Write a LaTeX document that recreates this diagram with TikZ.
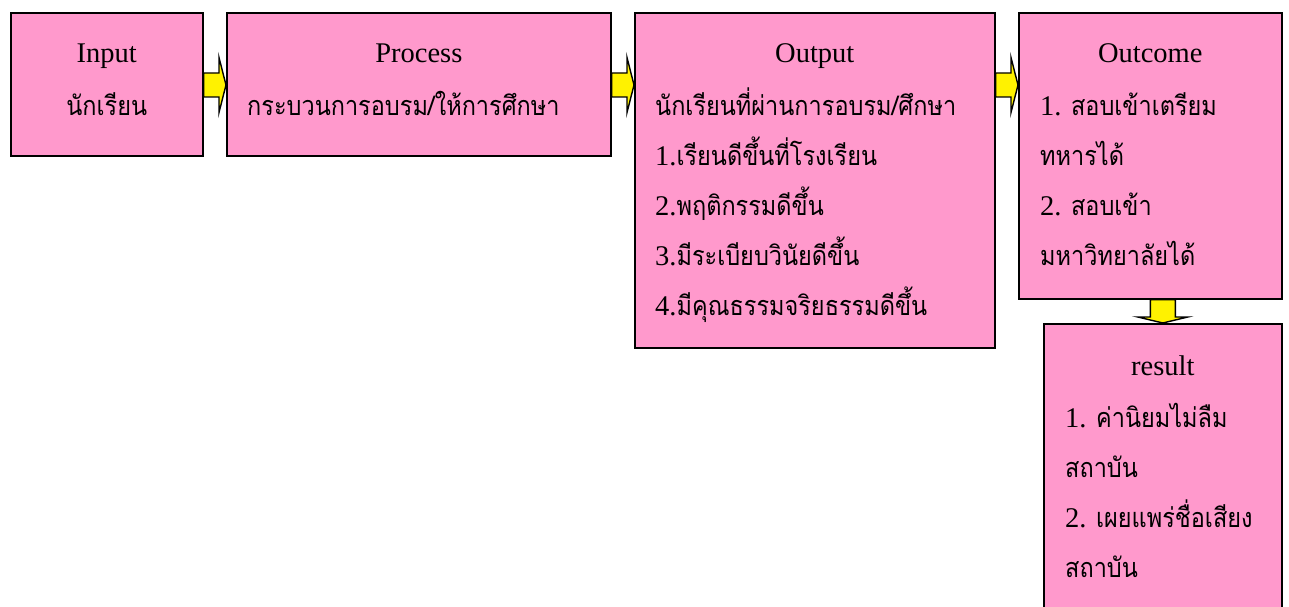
\documentclass[tikz,border=0pt]{standalone}
\usepackage{fontspec}
\setmainfont{Liberation Serif}
\newfontfamily\thaifont[Script=Thai,FakeStretch=0.87]{Loma}
\usetikzlibrary{calc}
\definecolor{boxpink}{HTML}{FF99CC}
\newcommand{\thai}[1]{{\thaifont\fontsize{27}{30}\selectfont #1}}
\newcommand{\arrowright}[2]{%
  \draw[blockarrow] ($(#1.north east)+(0,61)$) -- ($(#2.north west)+(-7,61)$)
    -- ($(#2.north west)+(-7,45.5)$) -- ($(#2.north west)+(0,73)$)
    -- ($(#2.north west)+(-7,100.5)$) -- ($(#2.north west)+(-7,85)$)
    -- ($(#1.north east)+(0,85)$) -- cycle;}

\begin{document}
\begin{tikzpicture}[x=1pt,y=-1pt,font=\fontsize{28.5}{32}\selectfont,
    box/.style={draw,line width=1.6pt,fill=boxpink,anchor=north west,inner sep=0pt},
    blockarrow/.style={draw,fill=yellow,line width=1.4pt,line join=miter},
    head/.style={anchor=base,inner sep=0pt},
    txt/.style={anchor=base west,inner sep=0pt}]

    \useasboundingbox (0,0) rectangle (1289,607);
    \clip (0,0) rectangle (1289,607);

    \node[box,minimum width=192pt,minimum height=143pt] (input)   at (10,12)   {};
    \node[box,minimum width=384pt,minimum height=143pt] (process) at (226,12)  {};
    \node[box,minimum width=360pt,minimum height=335pt] (output)  at (634,12)  {};
    \node[box,minimum width=263pt,minimum height=286pt] (outcome) at (1018,12) {};
    \node[box,minimum width=238pt,minimum height=300pt] (result)  at (1043,323) {};

    \arrowright{input}{process}
    \arrowright{process}{output}
    \arrowright{output}{outcome}
    \draw[blockarrow] ($(outcome.south -| result.north)+(-12.5,0)$) -- ($(result.north)+(-12.5,-6)$)
      -- ($(result.north)+(-25,-6)$) -- (result.north) -- ($(result.north)+(25,-6)$)
      -- ($(result.north)+(12.5,-6)$) -- ($(outcome.south -| result.north)+(12.5,0)$) -- cycle;

    \node[head] (inputH)  at ($(input.north)+(0,51)$)   {Input};
    \node[head] (inputL1) at ($(input.north)+(0,103)$)  {\thai{นักเรียน}};

    \node[head] (processH)  at ($(process.north)+(0,51)$) {Process};
    \node[txt]  (processL1) at ($(process.north west)+(21,103)$) {\thai{กระบวนการอบรม/ให้การศึกษา}};

    \node[head] (outputH)  at ($(output.north)+(0,51)$) {Output};
    \node[txt]  (outputL1) at ($(output.north west)+(21,103)$) {\thai{นักเรียนที่ผ่านการอบรม/ศึกษา}};
    \node[txt]  (outputL2) at ($(output.north west)+(21,153)$) {1.\thai{เรียนดีขึ้นที่โรงเรียน}};
    \node[txt]  (outputL3) at ($(output.north west)+(21,203)$) {2.\thai{พฤติกรรมดีขึ้น}};
    \node[txt]  (outputL4) at ($(output.north west)+(21,253)$) {3.\thai{มีระเบียบวินัยดีขึ้น}};
    \node[txt]  (outputL5) at ($(output.north west)+(21,303)$) {4.\thai{มีคุณธรรมจริยธรรมดีขึ้น}};

    \node[head] (outcomeH)  at ($(outcome.north)+(0,51)$) {Outcome};
    \node[txt]  (outcomeL1) at ($(outcome.north west)+(22,103)$) {1. \thai{สอบเข้าเตรียม}};
    \node[txt]  (outcomeL2) at ($(outcome.north west)+(22,153)$) {\thai{ทหารได้}};
    \node[txt]  (outcomeL3) at ($(outcome.north west)+(22,203)$) {2. \thai{สอบเข้า}};
    \node[txt]  (outcomeL4) at ($(outcome.north west)+(22,253)$) {\thai{มหาวิทยาลัยได้}};

    \node[head] (resultH)  at ($(result.north)+(0,52)$) {result};
    \node[txt]  (resultL1) at ($(result.north west)+(22,104)$) {1. \thai{ค่านิยมไม่ลืม}};
    \node[txt]  (resultL2) at ($(result.north west)+(22,154)$) {\thai{สถาบัน}};
    \node[txt]  (resultL3) at ($(result.north west)+(22,204)$) {2. \thai{เผยแพร่ชื่อเสียง}};
    \node[txt]  (resultL4) at ($(result.north west)+(22,254)$) {\thai{สถาบัน}};
\end{tikzpicture}
\end{document}
